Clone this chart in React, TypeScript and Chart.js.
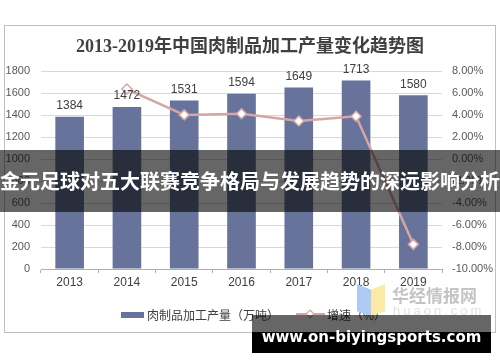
import React, { useEffect, useRef } from "react";
import { Chart, registerables } from "chart.js";

Chart.register(...registerables);

const categories = ["2013", "2014", "2015", "2016", "2017", "2018", "2019"];
const production = [1384, 1472, 1531, 1594, 1649, 1713, 1580];
const growth = [null, 6.36, 4.01, 4.11, 3.45, 3.88, -7.76];
const leftMin = 0;
const leftMax = 1800;
const leftStep = 200;
const rightMin = -10;
const rightMax = 8;
const rightStep = 2;
const titleText = "2013-2019年中国肉制品加工产量变化趋势图";
const barLabel = "肉制品加工产量（万吨）";
const lineLabel = "增速（%）";
const bannerText = "金元足球对五大联赛竞争格局与发展趋势的深远影响分析";
const urlText = "www.on-biyingsports.com";
const wmText = "华经情报网";
const wmSub = "huaon.com";

const BAR_COLOR = "#67739A";
const LINE_COLOR = "#D6A5A5";
const TEXT_COLOR = "#404040";
const CJK = "'Noto Sans CJK SC', 'Noto Sans', sans-serif";
const SANS = "'Liberation Sans', Arial, sans-serif";

const decorPlugin = {
  id: "decor",
  beforeDraw(chart: any) {
    const ctx = chart.ctx;
    ctx.save();
    ctx.fillStyle = "#ffffff";
    ctx.fillRect(0, 0, chart.width, chart.height);
    ctx.strokeStyle = "#bfbfbf";
    ctx.lineWidth = 1;
    ctx.strokeRect(4.5, 25.5, 491, 307);
    ctx.fillStyle = TEXT_COLOR;
    ctx.font = "bold 18px 'Liberation Serif', " + CJK;
    ctx.textAlign = "center";
    ctx.textBaseline = "middle";
    ctx.fillText(titleText, 250, 47);
    ctx.restore();
  },
  afterDatasetsDraw(chart: any) {
    const ctx = chart.ctx;
    const meta = chart.getDatasetMeta(0);
    ctx.save();
    ctx.fillStyle = TEXT_COLOR;
    ctx.font = "12px " + SANS;
    ctx.textAlign = "center";
    ctx.textBaseline = "middle";
    meta.data.forEach((el: any, i: number) => {
      ctx.fillText(String(production[i]), el.x, el.y - 11);
    });
    ctx.restore();
  },
  afterDraw(chart: any) {
    const ctx = chart.ctx;
    ctx.save();
    const y = 315;
    ctx.fillStyle = BAR_COLOR;
    ctx.fillRect(121, y - 3, 23, 6);
    ctx.fillStyle = TEXT_COLOR;
    ctx.font = "12px " + CJK;
    ctx.textAlign = "left";
    ctx.textBaseline = "middle";
    ctx.fillText(chart.data.datasets[0].label, 147, y);
    ctx.strokeStyle = LINE_COLOR;
    ctx.lineWidth = 2;
    ctx.beginPath();
    ctx.moveTo(296, y - 1);
    ctx.lineTo(325, y - 1);
    ctx.stroke();
    ctx.fillStyle = "#fff";
    ctx.lineWidth = 1.2;
    ctx.beginPath();
    const cx = 310, cy = y - 1, r = 4;
    ctx.moveTo(cx, cy - r);
    ctx.lineTo(cx + r, cy);
    ctx.lineTo(cx, cy + r);
    ctx.lineTo(cx - r, cy);
    ctx.closePath();
    ctx.fill();
    ctx.stroke();
    ctx.fillStyle = TEXT_COLOR;
    ctx.fillText(chart.data.datasets[1].label, 327, y);
    ctx.restore();
  },
};

export default function App() {
  const ref = useRef<HTMLCanvasElement | null>(null);
  useEffect(() => {
    if (!ref.current) return;
    const chart = new Chart(ref.current, {
      type: "bar",
      data: {
        labels: categories,
        datasets: [
          {
            type: "bar",
            label: barLabel,
            data: production,
            backgroundColor: BAR_COLOR,
            categoryPercentage: 0.5,
            barPercentage: 1,
            yAxisID: "y",
            order: 2,
          } as any,
          {
            type: "line",
            label: lineLabel,
            data: growth,
            borderColor: LINE_COLOR,
            borderWidth: 2.5,
            pointStyle: "rectRot",
            pointRadius: 5,
            pointBackgroundColor: "#ffffff",
            pointBorderColor: LINE_COLOR,
            pointBorderWidth: 1.5,
            yAxisID: "y1",
            order: 1,
            spanGaps: false,
          } as any,
        ],
      },
      options: {
        responsive: false,
        animation: false,
        events: [],
        layout: { padding: { top: 71, bottom: 73, left: 0, right: 0 } },
        plugins: {
          legend: { display: false },
          title: { display: false },
          tooltip: { enabled: false },
        },
        scales: {
          x: {
            grid: {
              drawOnChartArea: false,
              drawTicks: true,
              tickLength: 4,
              color: "#b0b0b0",
            },
            border: { display: true, color: "#b0b0b0" },
            ticks: {
              color: TEXT_COLOR,
              font: { size: 12, family: SANS },
              padding: 2,
            },
            afterFit: (s: any) => {
              s.height = 20;
            },
          },
          y: {
            position: "left",
            min: leftMin,
            max: leftMax,
            ticks: {
              stepSize: leftStep,
              color: "#595959",
              font: { size: 11, family: SANS },
              padding: 11,
              callback: (v: any) => String(v),
            },
            grid: { color: "#d9d9d9", drawTicks: false },
            border: { display: false },
            afterFit: (s: any) => {
              s.width = 41;
            },
          },
          y1: {
            position: "right",
            min: rightMin,
            max: rightMax,
            ticks: {
              stepSize: rightStep,
              color: "#595959",
              font: { size: 11, family: SANS },
              padding: 10,
              callback: (v: any) => Number(v).toFixed(2) + "%",
            },
            grid: { drawOnChartArea: false, drawTicks: false },
            border: { display: false },
            afterFit: (s: any) => {
              s.width = 58;
            },
          },
        },
      } as any,
      plugins: [decorPlugin],
    });
    return () => chart.destroy();
  }, []);

  return (
    <div style={{ position: "absolute", left: 0, top: 0, width: 500, height: 362, overflow: "hidden", background: "#fff" }}>
      <canvas ref={ref} width={500} height={362} style={{ position: "absolute", left: 0, top: 0, width: 500, height: 362 }} />
      {/* watermark */}
      <div
        style={{
          position: "absolute",
          left: 357,
          top: 284,
          width: 14,
          height: 32,
          background: "#aecbf3",
          clipPath: "polygon(0 0, 100% 18%, 100% 100%, 0 85%)",
        }}
      />
      <div
        style={{
          position: "absolute",
          left: 371,
          top: 284,
          width: 14,
          height: 32,
          background: "#fbe9a8",
          clipPath: "polygon(0 18%, 100% 0, 100% 85%, 0 100%)",
        }}
      />
      <div
        style={{
          position: "absolute",
          left: 392,
          top: 284,
          width: 90,
          height: 22,
          lineHeight: "22px",
          fontFamily: CJK,
          fontWeight: "bold",
          fontSize: 17,
          color: "#c4c4c4",
          whiteSpace: "nowrap",
        }}
      >
        {wmText}
      </div>
      <div
        style={{
          position: "absolute",
          left: 393,
          top: 303,
          width: 90,
          height: 16,
          lineHeight: "16px",
          fontFamily: SANS,
          fontSize: 13,
          letterSpacing: 3,
          color: "#e2e2e2",
          whiteSpace: "nowrap",
        }}
      >
        {wmSub}
      </div>
      {/* banner */}
      <div
        style={{
          position: "absolute",
          left: 0,
          top: 150,
          width: 500,
          height: 62,
          background: "rgba(0,0,0,0.6)",
        }}
      />
      <div
        style={{
          position: "absolute",
          left: -10,
          top: 150,
          width: 520,
          height: 62,
          lineHeight: "62px",
          textAlign: "center",
          color: "#ffffff",
          fontFamily: CJK,
          fontWeight: "bold",
          fontSize: 20,
          whiteSpace: "nowrap",
        }}
      >
        {bannerText}
      </div>
      {/* url box */}
      <div style={{ position: "absolute", left: 252, top: 315, width: 239, height: 17, background: "rgba(0,0,0,0.6)" }} />
      <div style={{ position: "absolute", left: 252, top: 332, width: 239, height: 21, background: "#000" }} />
      <div
        style={{
          position: "absolute",
          left: 252,
          top: 327,
          width: 239,
          height: 20,
          lineHeight: "20px",
          textAlign: "center",
          color: "#ffffff",
          fontFamily: "'DejaVu Sans', sans-serif",
          fontWeight: "bold",
          fontSize: 15,
          whiteSpace: "nowrap",
        }}
      >
        {urlText}
      </div>
    </div>
  );
}
